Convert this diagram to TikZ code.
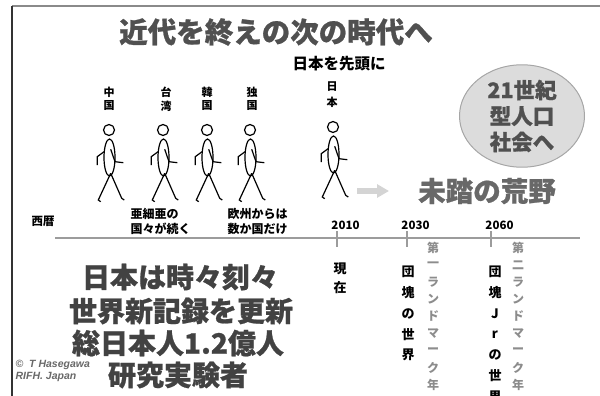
\documentclass[tikz,border=0pt]{standalone}
\usepackage{fontspec}
\newfontfamily\jpfont{Noto Sans CJK JP}
\newfontfamily\jpheavy{Noto Sans CJK JP}[BoldFeatures={FakeBold=0.8}]
\newfontfamily\cpfont{Liberation Sans}
\usetikzlibrary{arrows.meta}
\usetikzlibrary{shapes.geometric}

\definecolor{framegray}{HTML}{8A8A8A}
\definecolor{titlegray}{HTML}{505050}
\definecolor{biggray}{HTML}{424242}
\definecolor{fieldgray}{HTML}{686868}
\definecolor{markgray}{HTML}{8C8C8C}
\definecolor{linegray}{HTML}{9C9C9C}
\definecolor{arrowgray}{HTML}{D4D4D4}
\definecolor{bubblefill}{HTML}{DCDCDC}
\definecolor{bubbleline}{HTML}{A6A6A6}

\newcommand{\jsize}[2]{\jpfont\bfseries\fontsize{#1}{#2}\selectfont}
\newcommand{\heavysize}[2]{\jpheavy\bfseries\fontsize{#1}{#2}\selectfont}
% vertical text, one character per node: name, x, top y, step, style, characters
\newcommand{\tate}[6]{%
  \foreach \c [count=\i] in {#6}
    \node[#5] (#1-\i) at ({#2},{#3+#4*(\i-1)}) {\c};}

\tikzset{
  walker/.pic={
    \draw (0,0) circle (5.5);
    \draw (0.5,27.5) ellipse [x radius=5.5, y radius=18.5];
    \draw (-5,21.7) -- (-11.7,26.7) -- (-11.7,35);
    \draw (1.7,19.3) -- (6,31.7) -- (14.3,32.7);
    \draw (1.7,43.3) -- (-10.7,70) -- (-8.3,71.7);
    \draw (1.7,43.3) -- (12.7,68.3) -- (15.3,70);
  },
  small/.style={font=\jsize{11}{11}},
  year/.style={font=\jsize{11.5}{11.5}},
  note/.style={font=\jsize{12}{15}, align=left, anchor=west},
  tatebk/.style={font=\jsize{13}{13}},
  tategr/.style={font=\jsize{12}{12}, text=markgray},
  big/.style={font=\heavysize{28}{28}, text=biggray},
}

\begin{document}
\begin{tikzpicture}[x=1pt, y=-1pt, inner sep=0pt, line width=1.2pt]
  \useasboundingbox (0,0) rectangle (600,396);

  % frame
  \draw[framegray, line width=1.8pt] (12,6) -- (600,6);
  \draw[black!80, line width=1.2pt] (12,6) -- (12,396);

  \node[font=\heavysize{28.5}{28.5}, text=titlegray] (title) at (276,32) {近代を終えの次の時代へ};
  \node[font=\jsize{15.5}{15.5}] (lead) at (339,64) {日本を先頭に};

  % walkers and their labels
  \foreach \x in {109,163,207,250}
    \pic at (\x,130) {walker};
  \pic at (333,127) {walker};

  \tate{cn}{109}{92}{14}{small}{中,国}
  \tate{tw}{166}{92}{14}{small}{台,湾}
  \tate{kr}{207}{92}{14}{small}{韓,国}
  \tate{de}{252}{92}{14}{small}{独,国}
  \tate{jp}{332}{87}{15}{small}{日,本}

  \node[ellipse, draw=bubbleline, fill=bubblefill, line width=1pt,
        minimum width=125pt, minimum height=87pt, align=center,
        font=\heavysize{21.5}{26}, text=titlegray] (era21) at (522,116) {21世紀\\型人口\\社会へ};

  \coordinate (go0) at (357,191);
  \coordinate (go1) at (389,191);
  \draw[arrowgray, line width=6pt, -{Triangle[length=12pt,width=13pt]}] (go0) -- (go1);
  \node[font=\heavysize{27.5}{27.5}, text=fieldgray] (field) at (487,191) {未踏の荒野};

  % time line
  \node[year] (seireki) at (43,221) {西暦};
  \node[note] (asia) at (130,221) {亜細亜の\\国々が続く};
  \node[note] (euro) at (227,221) {欧州からは\\数か国だけ};
  \draw[linegray, line width=2.5pt] (55,238) -- (580,238);
  \foreach \x/\yr in {337/2010, 407/2030, 491/2060} {
    \draw[linegray, line width=1.3pt] (\x,231) -- (\x,247);
    \node[year] (y\yr) at (\x+8.5,225) {\yr};
  }

  \tate{now}{340}{269}{19}{tatebk}{現,在}
  \tate{dk}{408}{272}{20.8}{tatebk}{団,塊,の,世,界}
  \tate{lm1}{433}{248}{17.1}{tategr}{第,一,ラ,ン,ド,マ,ー,ク,年}
  \tate{dkj}{495}{272}{20.8}{tatebk}{団,塊,J,r,の,世,界}
  \tate{lm2}{518}{248}{17.1}{tategr}{第,二,ラ,ン,ド,マ,ー,ク,年}

  \node[big] (line1) at (180,277) {日本は時々刻々};
  \node[big] (line2) at (181,311) {世界新記録を更新};
  \node[big] (line3) at (178,343) {総日本人1.2億人};
  \node[big] (line4) at (178,375) {研究実験者};

  \node[font=\cpfont\bfseries\itshape\fontsize{10.5}{10.5}\selectfont, text=fieldgray,
        anchor=west] (copy1) at (15,365) {©\ \ T Hasegawa};
  \node[font=\cpfont\bfseries\itshape\fontsize{10.5}{10.5}\selectfont, text=fieldgray,
        anchor=west] (copy2) at (15,377) {RIFH. Japan};
\end{tikzpicture}
\end{document}
